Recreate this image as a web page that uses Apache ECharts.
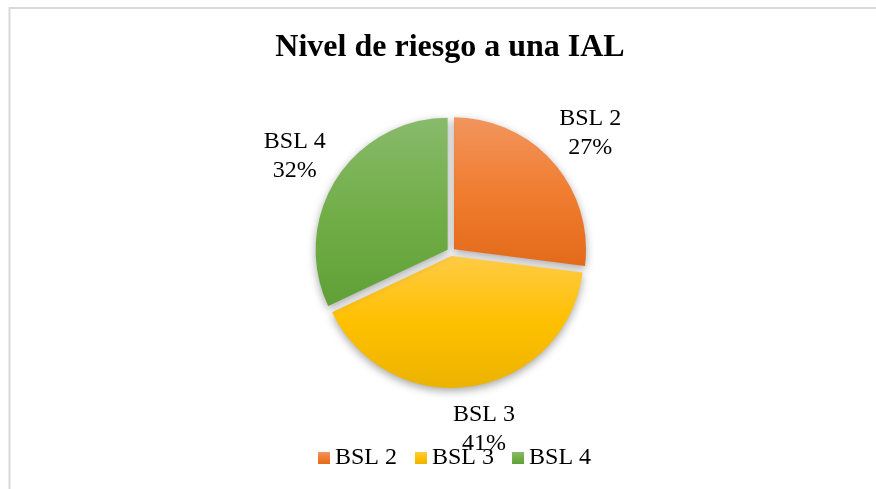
<!DOCTYPE html>
<html>
<head>
<meta charset="utf-8">
<script src="https://cdn.jsdelivr.net/npm/echarts@6/dist/echarts.min.js"></script>
<style>html,body{margin:0;padding:0;background:#fff}#c{width:876px;height:489px}</style>
</head>
<body>
<div id="c"></div>
<script>
const titleText = 'Nivel de riesgo a una IAL';
const categories = ['BSL 2', 'BSL 3', 'BSL 4'];
const values = [27, 41, 32];
const topColors = ['#F2955E', '#FFCB45', '#88BA6C'];
const midColors = ['#F07D31', '#FFC000', '#72AE48'];
const botColors = ['#E36A1A', '#EBB300', '#60A036'];

const chart = echarts.init(document.getElementById('c'));
chart.setOption({
  backgroundColor: '#fff',
  animation: false,
  graphic: [{
    type: 'rect', silent: true,
    shape: { x: 9.5, y: 8, width: 900, height: 500 },
    style: { fill: 'none', stroke: '#d9d9d9', lineWidth: 2 }
  }],
  title: {
    text: titleText, left: 445, top: 27, textAlign: 'center',
    textStyle: { fontFamily: 'Liberation Serif', fontWeight: 'bold', fontSize: 32, color: '#000' }
  },
  legend: {
    top: 441, left: 313, itemWidth: 12, itemHeight: 12, itemGap: 18, icon: 'rect',
    data: categories,
    textStyle: { fontFamily: 'Liberation Serif', fontSize: 24, color: '#000' }
  },
  series: [{
    type: 'pie',
    center: [451, 252],
    radius: [0, 132],
    startAngle: 90,
    clockwise: true,
    selectedMode: 'multiple',
    selectedOffset: 4,
    itemStyle: {
      shadowBlur: 8, shadowOffsetY: 3, shadowColor: 'rgba(0,0,0,0.35)'
    },
    label: {
      show: true, position: 'outside', formatter: '{b}\n{d}%',
      fontFamily: 'Liberation Serif', fontSize: 24, color: '#000', lineHeight: 29, align: 'center'
    },
    labelLine: { show: false, length: 43, length2: 0 },
    labelLayout: function () {
      return { align: 'center', verticalAlign: 'middle' };
    },
    data: categories.map((c, i) => ({
      name: c, value: values[i], selected: true,
      itemStyle: {
        color: new echarts.graphic.LinearGradient(0, 0, 0, 1, [
          { offset: 0, color: topColors[i] },
          { offset: 0.5, color: midColors[i] },
          { offset: 1, color: botColors[i] }
        ])
      }
    }))
  }]
});
</script>
</body>
</html>
